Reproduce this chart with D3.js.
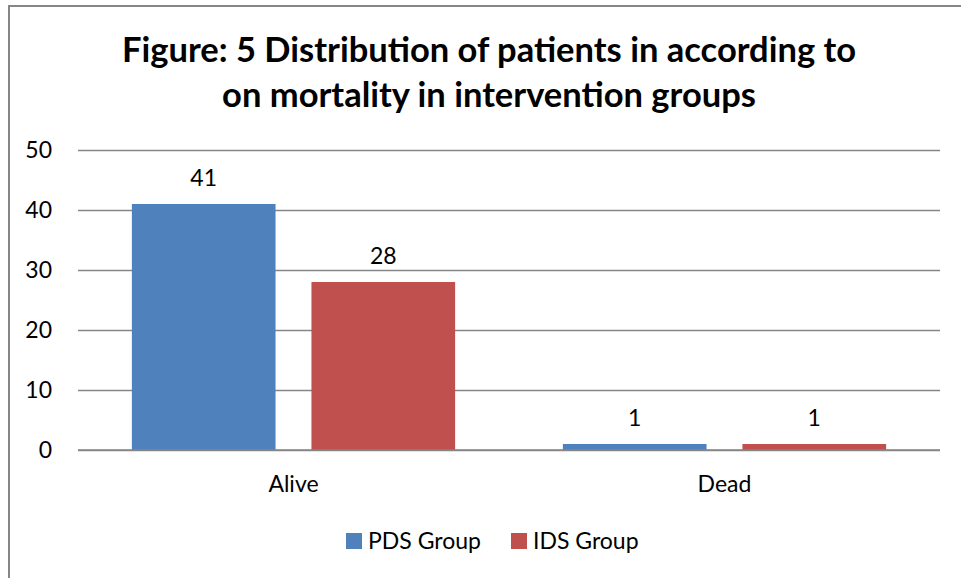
<!DOCTYPE html>
<html>
<head>
<meta charset="utf-8">
<script src="https://cdn.jsdelivr.net/npm/d3@7"></script>
<style>
  body { margin: 0; background: #fff; }
  svg { display: block; font-family: Lato, "Liberation Sans", sans-serif; }
</style>
</head>
<body>
<svg width="961" height="578"></svg>
<script>
const categories = ['Alive', 'Dead'];
const seriesNames = ['PDS Group', 'IDS Group'];
const pdsValues = [41, 1];
const idsValues = [28, 1];
const yTicks = [0, 10, 20, 30, 40, 50];
const colors = ['#4F81BD', '#C0504D'];
const titleLines = ['Figure: 5 Distribution of patients in according to',
                    'on mortality in intervention groups'];

const svg = d3.select('svg');
const fontSize = 23;

const data = categories.map((c, i) => ({
  category: c,
  values: [pdsValues[i], idsValues[i]]
}));

// chart area border (only left and top edges fall inside the picture)
svg.append('path')
  .attr('d', 'M9,578 V6 H961')
  .attr('fill', 'none')
  .attr('stroke', '#868686')
  .attr('stroke-width', 2);

svg.selectAll('.title').data(titleLines)
  .enter().append('text')
    .attr('class', 'title')
    .attr('x', 489)
    .attr('y', (d, i) => 62 + i * 45)
    .attr('text-anchor', 'middle')
    .attr('font-size', 34.5)
    .attr('font-weight', 'bold')
    .attr('fill', '#000')
    .text(d => d);

const margin = { left: 78, right: 21, top: 150, bottom: 128 };
const innerWidth = 961 - margin.left - margin.right;
const innerHeight = 578 - margin.top - margin.bottom;

const g = svg.append('g')
  .attr('transform', `translate(${margin.left},${margin.top})`);

const x0 = d3.scaleBand()
  .domain(categories)
  .range([0, innerWidth])
  .paddingInner(0.25)
  .paddingOuter(0.125);

const x1 = d3.scaleBand()
  .domain(seriesNames)
  .range([0, x0.bandwidth()])
  .paddingInner(0.2);

const y = d3.scaleLinear()
  .domain([0, 50])
  .range([innerHeight, 0]);

const yAxis = d3.axisLeft(y)
  .tickValues(yTicks)
  .tickSize(-innerWidth)
  .tickPadding(26);

const yAxisG = g.append('g').call(yAxis);
yAxisG.select('.domain').remove();
yAxisG.selectAll('.tick line')
  .attr('stroke', '#868686')
  .attr('stroke-width', 1.5);
yAxisG.selectAll('.tick text')
  .attr('font-size', fontSize)
  .attr('font-family', 'Lato, sans-serif')
  .attr('fill', '#000');

const groups = g.selectAll('.group').data(data)
  .enter().append('g')
    .attr('class', 'group')
    .attr('transform', d => `translate(${x0(d.category)},0)`);

groups.selectAll('rect')
  .data(d => d.values.map((v, i) => ({ key: seriesNames[i], value: v, i })))
  .enter().append('rect')
    .attr('x', d => x1(d.key))
    .attr('y', d => y(d.value))
    .attr('width', x1.bandwidth())
    .attr('height', d => y(0) - y(d.value))
    .attr('fill', d => colors[d.i]);

groups.selectAll('.label')
  .data(d => d.values.map((v, i) => ({ key: seriesNames[i], value: v })))
  .enter().append('text')
    .attr('class', 'label')
    .attr('x', d => x1(d.key) + x1.bandwidth() / 2)
    .attr('y', d => y(d.value) - 18)
    .attr('text-anchor', 'middle')
    .attr('font-size', fontSize)
    .attr('fill', '#000')
    .text(d => d.value);

// baseline drawn again over the bars
g.append('line')
  .attr('x1', 0)
  .attr('x2', innerWidth)
  .attr('y1', y(0))
  .attr('y2', y(0))
  .attr('stroke', '#868686')
  .attr('stroke-width', 1.5);

const xAxis = d3.axisBottom(x0).tickSize(0).tickPadding(26);
const xAxisG = g.append('g')
  .attr('transform', `translate(0,${innerHeight})`)
  .call(xAxis);
xAxisG.select('.domain').remove();
xAxisG.selectAll('.tick text')
  .attr('font-size', fontSize)
  .attr('font-family', 'Lato, sans-serif')
  .attr('fill', '#000');

// legend
const legendX = [346, 511];
const legend = svg.selectAll('.legend').data(seriesNames)
  .enter().append('g')
    .attr('class', 'legend')
    .attr('transform', (d, i) => `translate(${legendX[i]},533)`);
legend.append('rect')
  .attr('width', 16)
  .attr('height', 16)
  .attr('fill', (d, i) => colors[i]);
legend.append('text')
  .attr('x', 22)
  .attr('y', 16)
  .attr('font-size', fontSize)
  .attr('fill', '#000')
  .text(d => d);
</script>
</body>
</html>
